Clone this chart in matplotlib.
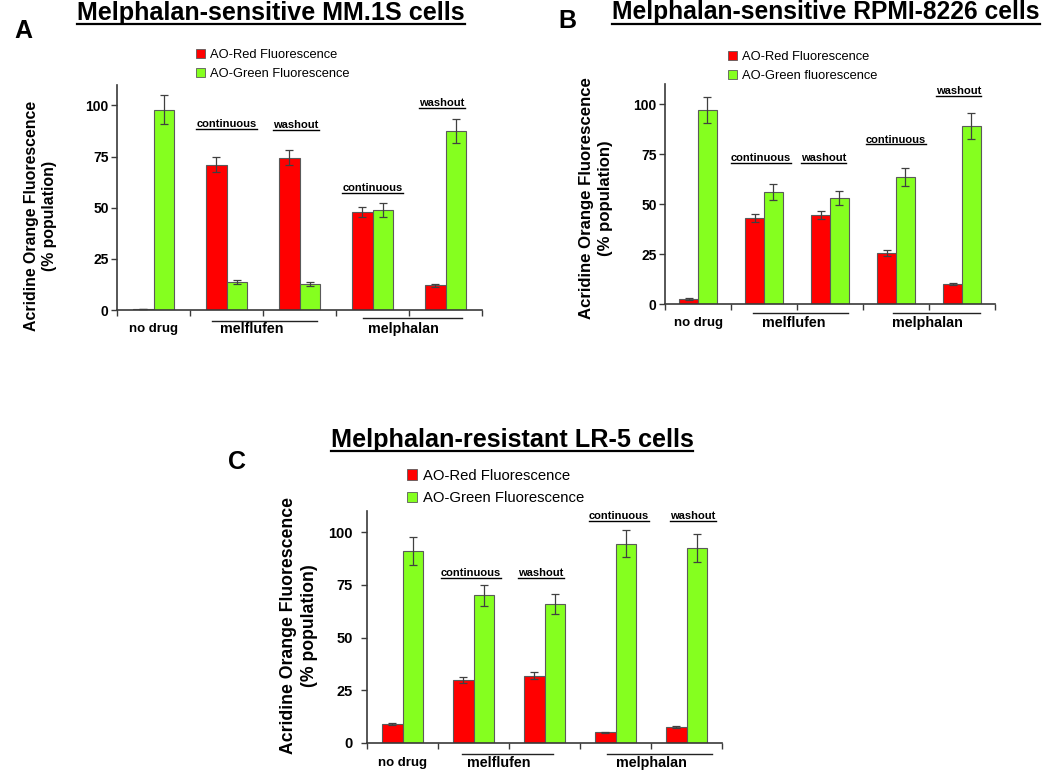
import matplotlib
matplotlib.use("Agg")
import matplotlib.pyplot as plt
from matplotlib.lines import Line2D
import matplotlib.transforms as mtransforms

plt.rcParams['font.family'] = ['Liberation Sans', 'DejaVu Sans']

# ---------------- data ----------------
groups = ["no drug", "melflufen\ncontinuous", "melflufen\nwashout", "melphalan\ncontinuous", "melphalan\nwashout"]

a_red = [0.5, 71, 74.5, 48, 12]
a_red_err = [0.2, 3.6, 3.7, 2.5, 0.7]
a_green = [98, 13.5, 12.5, 49, 87.5]
a_green_err = [7, 1.0, 1.0, 3.3, 6]

b_red = [2.5, 43, 44.5, 25.5, 10]
b_red_err = [0.3, 2.0, 2.2, 1.3, 0.5]
b_green = [97, 56, 53, 63.5, 89]
b_green_err = [6.7, 4.0, 3.6, 4.5, 6.5]

c_red = [9, 30, 32, 5, 7.5]
c_red_err = [0.5, 1.5, 1.8, 0.3, 0.5]
c_green = [91, 70, 66, 94.5, 92.5]
c_green_err = [6.5, 5.0, 4.6, 6.5, 6.5]

yticks = [0, 25, 50, 75, 100]

RED = "#ff0000"
GREEN = "#85ff1f"
EDGE = "#5a5a5a"
AX = "#3a3a3a"

W, H = 1050, 773
fig = plt.figure(figsize=(W / 100, H / 100), dpi=100)

def px_axes(l, r, b, t):
    return fig.add_axes([l / W, 1 - b / H, (r - l) / W, (b - t) / H])

underlined = []

def panel(ax, red, red_err, green, green_err, legend_labels, leg_pos, leg_size,
          sub_labels, grp_text_y, grp_line_y, mel_lines, ylab_size, ylab_xy,
          tick_size=10, tick_pad=2):
    n = len(red)
    x = list(range(n))
    w = 0.285
    ekw = dict(ecolor="#404040", elinewidth=0.9, capsize=2.8, capthick=0.9)
    ax.bar([i - w / 2 for i in x], red, w, yerr=red_err, color=RED, edgecolor=EDGE,
           linewidth=0.8, error_kw=ekw, label=legend_labels[0], zorder=2)
    ax.bar([i + w / 2 for i in x], green, w, yerr=green_err, color=GREEN, edgecolor=EDGE,
           linewidth=0.8, error_kw=ekw, label=legend_labels[1], zorder=2)
    ax.set_xlim(-0.5, n - 0.5)
    ax.set_ylim(0, 110)
    ax.set_yticks(yticks)
    ax.set_yticklabels([str(v) for v in yticks], fontsize=tick_size, fontweight="bold")
    ax.set_xticks([i - 0.5 for i in range(n + 1)])
    ax.set_xticklabels([])
    for s in ["top", "right"]:
        ax.spines[s].set_visible(False)
    for s in ["left", "bottom"]:
        ax.spines[s].set_color(AX)
        ax.spines[s].set_linewidth(1.2)
    ax.tick_params(axis="both", direction="out", length=4, width=1.0, color=AX, pad=2)
    ax.tick_params(axis="y", pad=tick_pad)
    ax.set_ylabel("Acridine Orange Fluorescence\n(% population)", fontsize=ylab_size,
                  fontweight="bold", linespacing=1.3)
    ax.yaxis.set_label_coords(*ylab_xy)
    leg = ax.legend(loc="lower left", bbox_to_anchor=leg_pos, bbox_transform=fig.transFigure,
                    frameon=False, fontsize=leg_size, handlelength=0.7, handleheight=0.7,
                    handletextpad=0.35, labelspacing=0.55, borderpad=0, borderaxespad=0)
    for hnd in leg.legend_handles:
        hnd.set_edgecolor(EDGE)
        hnd.set_linewidth(0.6)
    # sub labels
    for (lab, xx, yy) in sub_labels:
        t = ax.text(xx, yy, lab, ha="center", va="center", fontsize=8, fontweight="bold")
        underlined.append(t)
    # group labels
    tr = mtransforms.blended_transform_factory(ax.transData, ax.transAxes)
    ax.text(0, grp_text_y[0], "no drug", transform=tr, ha="center", va="center",
            fontsize=9.5, fontweight="bold", clip_on=False)
    ax.text(mel_lines[0][2], grp_text_y[1], "melflufen", transform=tr, ha="center", va="center",
            fontsize=10.3, fontweight="bold", clip_on=False)
    ax.text(mel_lines[1][2], grp_text_y[1], "melphalan", transform=tr, ha="center", va="center",
            fontsize=10.3, fontweight="bold", clip_on=False)
    for (x0, x1, _c), ly in zip(mel_lines, grp_line_y):
        ax.add_line(Line2D([x0, x1], [ly, ly], transform=tr, color="#222222",
                           linewidth=1.0, clip_on=False))

# Panel A
axA = px_axes(117, 482, 310, 85)
panel(axA, a_red, a_red_err, a_green, a_green_err,
      ["AO-Red Fluorescence", "AO-Green Fluorescence"], (196 / W, 1 - 80 / H), 9.3,
      [("continuous", 1.0, 90.9), ("washout", 1.95, 90.4),
       ("continuous", 3.0, 59.6), ("washout", 3.95, 101)],
      (-0.085, -0.085), (-0.049, -0.036),
      [(0.80, 2.24, 1.34), (2.87, 4.23, 3.42)],
      11.45, (-0.164, 0.42))

# Panel B
axB = px_axes(665, 995, 304, 84)
panel(axB, b_red, b_red_err, b_green, b_green_err,
      ["AO-Red Fluorescence", "AO-Green fluorescence"], (728 / W, 1 - 82 / H), 9.3,
      [("continuous", 0.95, 72.9), ("washout", 1.9, 72.9),
       ("continuous", 3.0, 82.2), ("washout", 3.95, 106.5)],
      (-0.086, -0.086), (-0.041, -0.041),
      [(0.83, 2.27, 1.45), (2.95, 4.27, 3.47)],
      12.1, (-0.158, 0.48))

# Panel C
axC = px_axes(367, 722, 743, 511)
panel(axC, c_red, c_red_err, c_green, c_green_err,
      ["AO-Red Fluorescence", "AO-Green Fluorescence"], (407 / W, 1 - 505 / H), 10.7,
      [("continuous", 0.96, 80.6), ("washout", 1.95, 80.6),
       ("continuous", 3.05, 107.4), ("washout", 4.09, 107.4)],
      (-0.085, -0.085), (-0.046, -0.046),
      [(0.84, 2.12, 1.36), (2.88, 4.36, 3.5)],
      12.7, (-0.137, 0.506), tick_size=10.5, tick_pad=6)

# Titles and panel letters
def ftext(x, y, s, **kw):
    return fig.text(x / W, 1 - y / H, s, **kw)

underlined.append(ftext(271, 13, "Melphalan-sensitive MM.1S cells", ha="center", va="center",
                        fontsize=18.1, fontweight="bold"))
underlined.append(ftext(826, 12, "Melphalan-sensitive RPMI-8226 cells", ha="center", va="center",
                        fontsize=17.7, fontweight="bold"))
underlined.append(ftext(512, 440, "Melphalan-resistant LR-5 cells", ha="center", va="center",
                        fontsize=18.2, fontweight="bold"))
ftext(23, 31, "A", ha="center", va="center", fontsize=18, fontweight="bold")
ftext(567, 21, "B", ha="center", va="center", fontsize=18, fontweight="bold")
ftext(237, 462, "C", ha="center", va="center", fontsize=18, fontweight="bold")

# underline decorations
fig.canvas.draw()
renderer = fig.canvas.get_renderer()
inv = fig.transFigure.inverted()
for t in underlined:
    bb = t.get_window_extent(renderer)
    lw = 1.6 if t.get_fontsize() > 12 else 1.0
    yline = bb.y0 + 0.5
    (x0, y0) = inv.transform((bb.x0, yline))
    (x1, _) = inv.transform((bb.x1, yline))
    fig.add_artist(Line2D([x0, x1], [y0, y0], transform=fig.transFigure, color="black",
                          linewidth=lw))

fig.savefig("out.png", dpi=100)
